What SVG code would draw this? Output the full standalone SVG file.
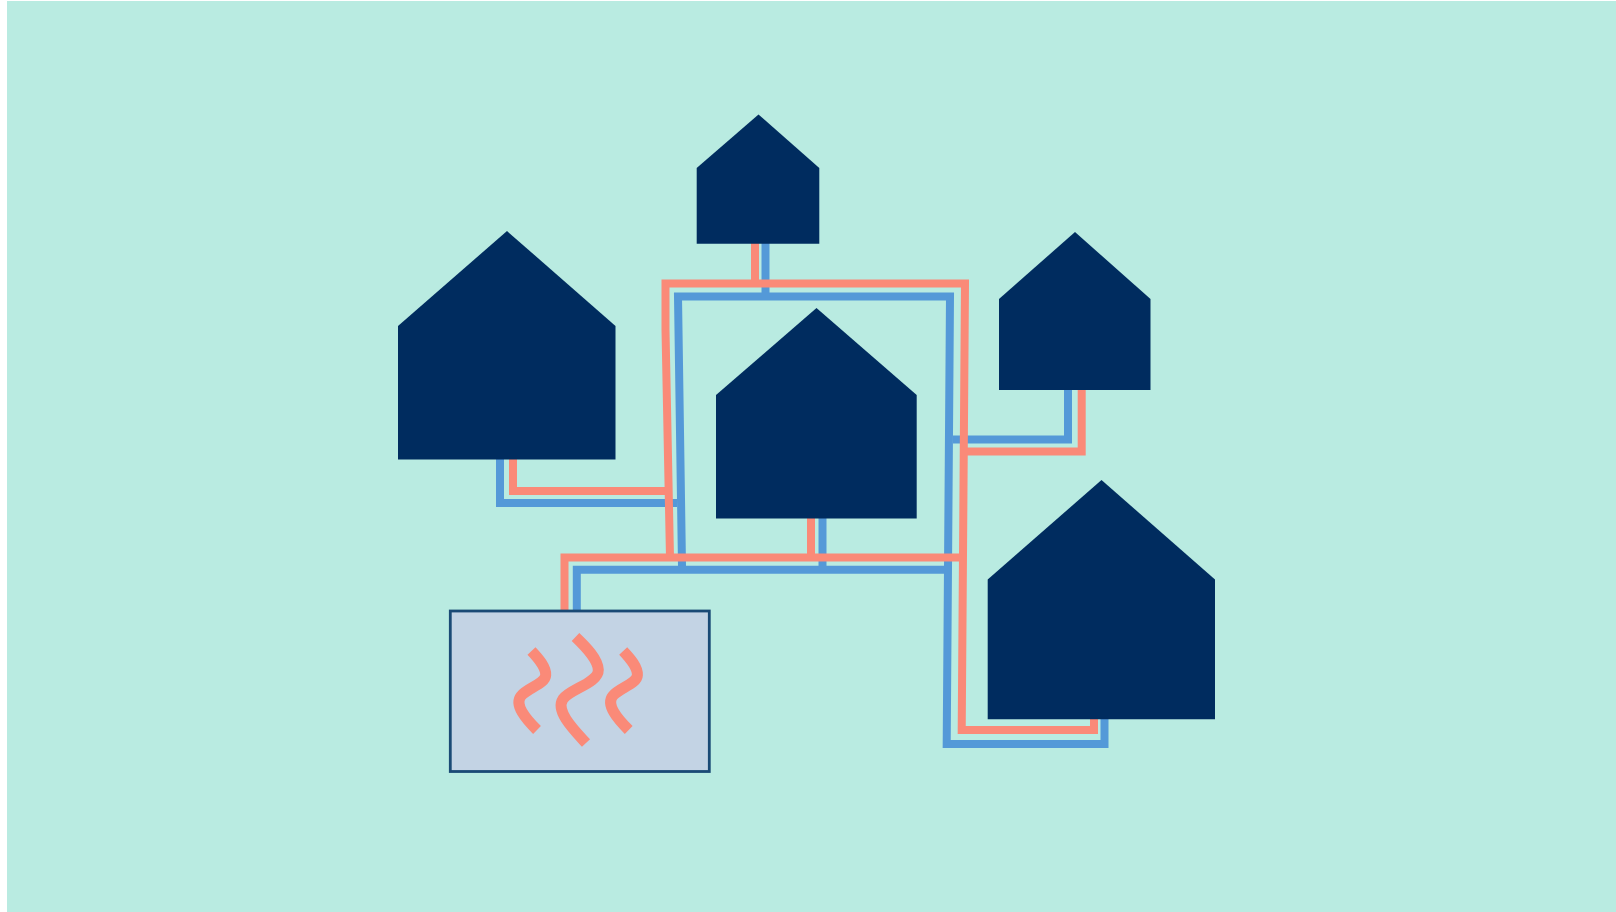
<svg xmlns="http://www.w3.org/2000/svg" width="1616" height="912" viewBox="0 0 1616 912">
<style>
.house{fill:#002c5f}
.pipe{fill:none;stroke-width:8;stroke-linejoin:miter;stroke-linecap:butt}
.blue{stroke:#5499d8}
.red{stroke:#fa8a78}
.wave{fill:none;stroke:#fa8a78;stroke-width:11;stroke-linejoin:round;stroke-linecap:butt}
</style>
<rect width="1616" height="912" fill="#ffffff"/>
<rect x="7" y="1" width="1609" height="911" fill="#b9ebe1"/>
<g id="connectors">
<g id="blue-pipes">
<path class="pipe blue" d="M500 459V503H677"/>
<path class="pipe blue" d="M682 566L678 296.500H950L946.700 744H1104.500V719"/>
<path class="pipe blue" d="M576.800 610V569.700H948"/>
<path class="pipe blue" d="M765.500 243V296"/>
<path class="pipe blue" d="M822.500 518V571"/>
<path class="pipe blue" d="M953 439.500H1068V390"/>
</g>
<g id="red-pipes">
<path class="pipe red" d="M513 459V491H667"/>
<path class="pipe red" d="M670 558L665.500 330V283.500H965L961.700 730H1094V719"/>
<path class="pipe red" d="M564.500 610V557.500H961"/>
<path class="pipe red" d="M755 243V284"/>
<path class="pipe red" d="M811 518V558"/>
<path class="pipe red" d="M964 451.500H1081.700V390"/>
</g>
</g>
<g id="house-left"><polygon class="house" points="398,326 507,231 615.500,326 615.500,459.500 398,459.500"/></g>
<g id="house-top"><polygon class="house" points="696.700,168 758.500,114.400 819.300,168 819.300,243.700 696.700,243.700"/></g>
<g id="house-center"><polygon class="house" points="716,395 816.500,308 916.700,395 916.700,518.500 716,518.500"/></g>
<g id="house-right"><polygon class="house" points="999,299 1075,232 1150.500,299 1150.500,390 999,390"/></g>
<g id="house-bottom-right"><polygon class="house" points="987.700,579.500 1101.500,480 1215,579.500 1215,719.300 987.700,719.300"/></g>
<g id="heater">
<rect x="450.300" y="611" width="259" height="160.500" fill="#c3d3e4" stroke="#1a4a75" stroke-width="2.800"/>
<path class="wave" d="M531.500 651C539 659 546 667 545.700 675C545.400 684 527 688 521 696C514 705 526 719 537 730"/>
<path class="wave" d="M575.500 637C586 647 598 659 598.300 670C598.500 683 570 689 563 699C555 711 574 730 586 743"/>
<path class="wave" d="M623.200 651C630.700 659 637.700 667 637.400 675C637.100 684 618.700 688 612.700 696C605.700 705 617.700 719 628.700 730"/>
</g>
</svg>
